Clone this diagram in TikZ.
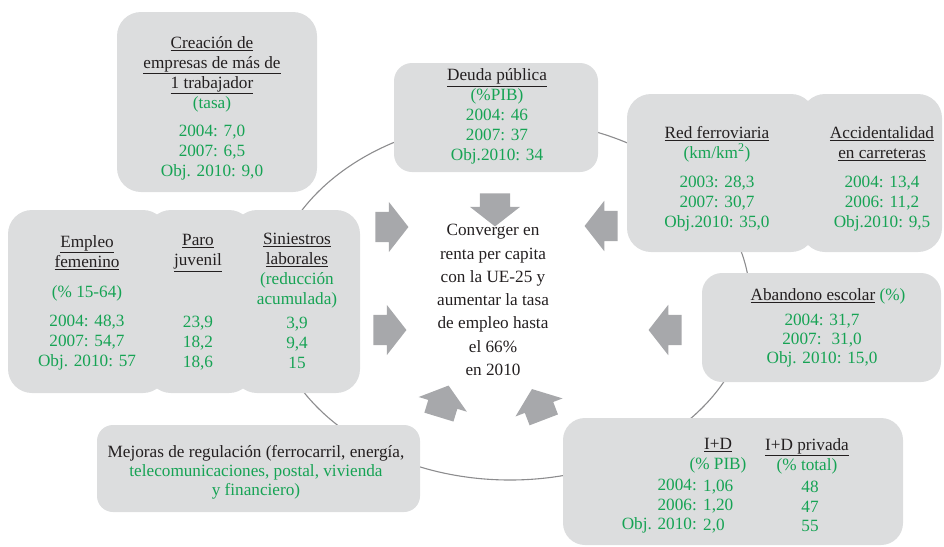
\documentclass[tikz,border=0pt]{standalone}
\usepackage{fontspec}
\setmainfont{Liberation Serif}
\usetikzlibrary{shapes.arrows}
\definecolor{boxgray}{RGB}{220,221,222}
\definecolor{arrgray}{RGB}{167,168,171}
\definecolor{txtgreen}{RGB}{22,163,84}
\definecolor{txtdark}{RGB}{35,31,32}
\definecolor{ringgray}{RGB}{140,140,142}
\newcommand{\hd}[1]{\textcolor{txtdark}{\underline{#1}}}

\begin{document}
\begin{tikzpicture}[x=1pt,y=-1pt,ring/.style={draw=ringgray, line width=1.1pt},panel/.style={fill=boxgray, rounded corners=#1, inner sep=0},panel/.default=24pt,bigarrow/.style={single arrow, fill=arrgray, minimum height=33, inner xsep=0, inner ysep=15, single arrow head extend=10, single arrow tip angle=104},figs/.style={align=center, inner sep=0, text=txtgreen, font=\fontsize{17.2}{20}\selectfont},plain/.style={figs, text=txtdark}]
\useasboundingbox (0,0) rectangle (944,546);
\draw[ring] (510,300) ellipse [x radius=240, y radius=180];
\node[panel, minimum width=200, minimum height=180] (creacion) at (217,102) {};
\node[panel=18pt, minimum width=204, minimum height=109] (deuda) at (496,117.5) {};
\node[panel, minimum width=188, minimum height=158] (red) at (721,173) {};
\node[panel, minimum width=141, minimum height=158] (accid) at (871.5,173) {};
\node[panel, minimum width=159, minimum height=183] (empleo) at (87.5,301.5) {};
\node[panel, minimum width=106, minimum height=183] (paro) at (200,301.5) {};
\node[panel, minimum width=127, minimum height=183] (sinies) at (296.5,301.5) {};
\node[panel=20pt, minimum width=239, minimum height=109] (abandono) at (821.5,327.5) {};
\node[panel=16pt, minimum width=323, minimum height=87] (mejoras) at (258.5,468.5) {};
\node[panel=22pt, minimum width=340, minimum height=127] (imasd) at (733,481.5) {};
\node[figs] (creacion-t) at (212,108) {\hd{Creación de}\\\hd{empresas de más de}\\\hd{1 trabajador}\\(tasa)\\[8pt]2004: 7,0\\2007: 6,5\\Obj. 2010: 9,0};
\node[figs] (deuda-t) at (497,116.5) {\hd{Deuda pública}\\(\%PIB)\\2004: 46\\2007: 37\\Obj.2010: 34};
\node[figs] (red-t) at (717,178.5) {\hd{Red ferroviaria}\\(km/km\textsuperscript{2})\\[9pt]2003: 28,3\\2007: 30,7\\Obj.2010: 35,0};
\node[figs] (accid-t) at (882,178.5) {\hd{Accidentalidad}\\\hd{en carreteras}\\[9pt]2004: 13,4\\2006: 11,2\\Obj.2010: 9,5};
\node[figs] (empleo-t) at (87,268) {\hd{Empleo}\\\hd{femenino}\\[10pt](\% 15-64)};
\node[figs] (paro-t) at (198,253) {\hd{Paro}\\\hd{juvenil}};
\node[figs] (sinies-t) at (297,271) {\hd{Siniestros}\\\hd{laborales}\\(reducción\\acumulada)};
\node[figs] (empleo-v) at (87,343) {2004: 48,3\\2007: 54,7\\Obj. 2010: 57};
\node[figs] (paro-v) at (198,343) {23,9\\18,2\\18,6};
\node[figs] (sinies-v) at (297,343) {3,9\\9,4\\15};
\node[plain, font=\fontsize{17.2}{23.3}\selectfont] (meta) at (493,300) {Converger en\\renta per capita\\con la UE-25 y\\aumentar la tasa\\de empleo hasta\\el 66\%\\en 2010};
\node[figs] (abandono-t) at (828,296) {\hd{Abandono escolar} (\%)};
\node[figs, font=\fontsize{17.2}{19}\selectfont] (abandono-v) at (822,341) {2004: 31,7\\2007:~ 31,0\\Obj. 2010: 15,0};
\node[plain, font=\fontsize{17.2}{19}\selectfont] (mejoras-t) at (256,472) {Mejoras de regulación (ferrocarril, energía,\\\textcolor{txtgreen}{telecomunicaciones, postal, vivienda}\\\textcolor{txtgreen}{y financiero)}};
\node[figs] (id-h) at (718,456) {\hd{I+D}\\(\% PIB)};
\node[figs] (priv-h) at (807,456) {\hd{I+D privada}\\(\% total)};
\node[figs, align=right, anchor=east, font=\fontsize{17.2}{19.5}\selectfont] (id-y) at (697,506.5) {2004:\\2006:\\Obj. 2010:};
\node[figs, align=left, anchor=west, font=\fontsize{17.2}{19.5}\selectfont] (id-v) at (703,506.5) {1,06\\1,20\\2,0};
\node[figs, font=\fontsize{17.2}{19.5}\selectfont] (priv-v) at (810,506.5) {48\\47\\55};
\node[bigarrow, rotate=-90] (a-deuda) at (495,204) {};
\node[bigarrow] (a-creacion) at (386,227) {};
\node[bigarrow] (a-empleo) at (384,330) {};
\node[bigarrow, rotate=180] (a-red) at (607,226) {};
\node[bigarrow, rotate=180] (a-abandono) at (671,330) {};
\node[bigarrow, rotate=73] (a-mejoras) at (442,407) {};
\node[bigarrow, rotate=111] (a-imasd) at (540,410) {};
\end{tikzpicture}
\end{document}
